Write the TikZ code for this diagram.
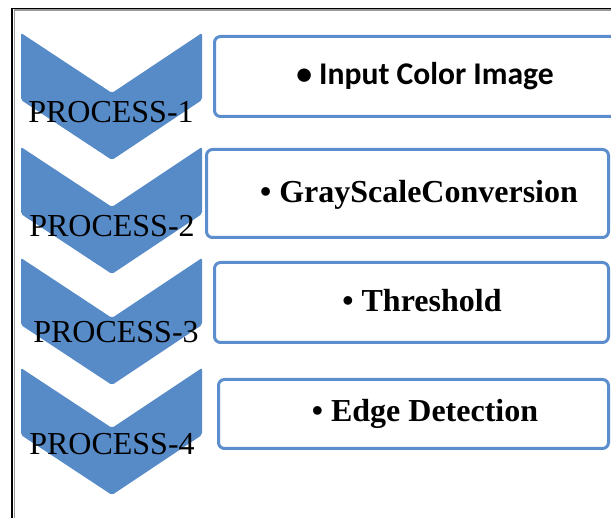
\documentclass[tikz,border=0pt]{standalone}
\usepackage{fontspec}
\setmainfont{Liberation Serif}
\newfontfamily\calibrifont{Carlito}
\usetikzlibrary{positioning}
\definecolor{chevblue}{RGB}{87,139,200}
\definecolor{boxblue}{RGB}{92,142,205}

\begin{document}
\begin{tikzpicture}[
  x=1pt, y=-1pt,
  stepbox/.style={draw=boxblue, line width=3pt, rounded corners=6pt, fill=white, anchor=north west, inner sep=0pt},
  steptext/.style={anchor=base, inner sep=0pt, font=\fontsize{32}{38}\selectfont\bfseries},
  proclabel/.style={anchor=base, inner sep=0pt, font=\fontsize{32}{38}\selectfont}
]
  \clip (0,0) rectangle (611,518);
  \fill[white] (0,0) rectangle (611,518);

  % page frame
  \draw[black, line width=1.5pt] (11,8.5) -- (640,8.5);
  \draw[black!40, line width=1.5pt] (14,10) -- (640,10);
  \draw[black, line width=2.5pt] (12,8) -- (12,530);
  \draw[black!40, line width=1pt] (14,10) -- (14,530);

  % chevrons
  \foreach \y in {33,147,258,368}
    \fill[chevblue, rounded corners=2pt] (21,\y) -- (112,\y+60) -- (202,\y) -- (202,\y+67) -- (112,\y+127) -- (21,\y+67) -- cycle;

  % process labels
  \node (process-1) [proclabel] at (111,123) {PROCESS-1};
  \node (process-2) [proclabel] at (112,237) {PROCESS-2};
  \node (process-3) [proclabel] at (116,343) {PROCESS-3};
  \node (process-4) [proclabel] at (112,455) {PROCESS-4};

  % step boxes
  \node (box-1) [stepbox, minimum width=427pt, minimum height=80pt] at (213,35) {};
  \node (box-2) [stepbox, minimum width=402pt, minimum height=88pt] at (205,148) {};
  \node (box-3) [stepbox, minimum width=394pt, minimum height=80pt] at (213,261) {};
  \node (box-4) [stepbox, minimum width=390pt, minimum height=69pt] at (217,378) {};

  \node (step-1) [steptext, font=\fontsize{31.6}{38}\selectfont\calibrifont\bfseries] at (425,85) {• Input Color Image};
  \node (step-2) [steptext] at (419,203) {\textbullet\ GrayScaleConversion};
  \node (step-3) [steptext] at (422,312) {\textbullet\ Threshold};
  \node (step-4) [steptext] at (425,422) {\textbullet\ Edge Detection};
\end{tikzpicture}
\end{document}
